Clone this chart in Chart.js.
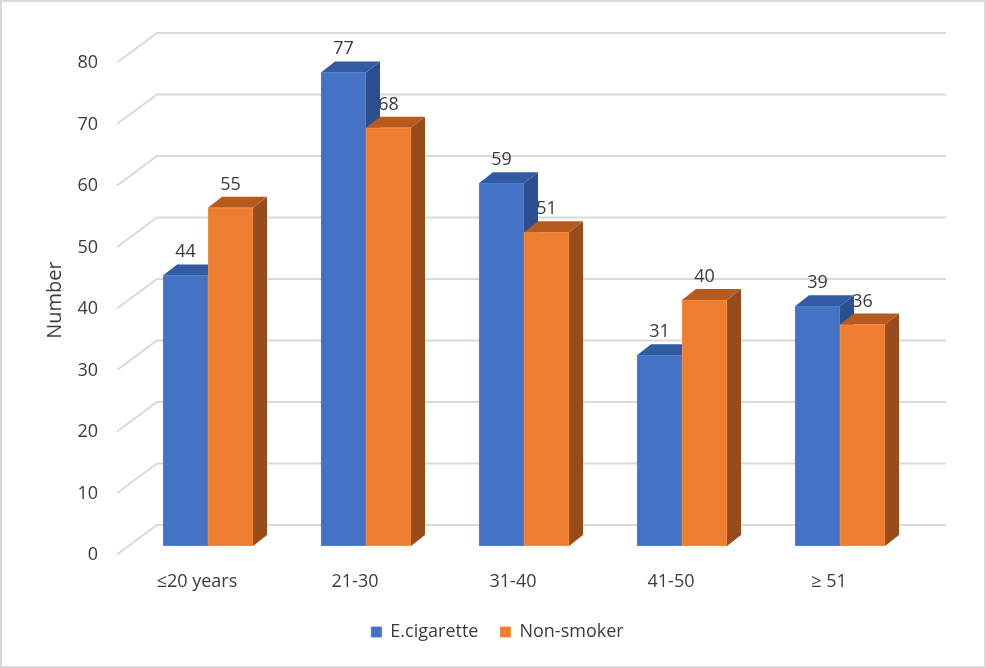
<!DOCTYPE html>
<html>
<head>
<meta charset="utf-8">
<script src="https://cdn.jsdelivr.net/npm/chart.js@4.4.1/dist/chart.umd.min.js"></script>
<style>
    html, body { margin: 0; padding: 0; background: #fff; }
    canvas { display: block; }
</style>
</head>
<body>
<canvas id="ageChart" width="986" height="668"></canvas>
<script>
// --- Data ---
const ageGroups = ['≤20 years', '21-30', '31-40', '41-50', '≥ 51'];
const eCigarette = [44, 77, 59, 31, 39];
const nonSmoker = [55, 68, 51, 40, 36];
const yTicks = [0, 10, 20, 30, 40, 50, 60, 70, 80];

// colours for the three visible faces of each bar
const faces = [
    { front: '#4472c4', top: '#335ba4', side: '#2c4f8f', edge: '#4f7fd4' },
    { front: '#ed7d31', top: '#b65a1e', side: '#984c1b', edge: '#f28b40' }
];

const DEPTH_X = 14;
const DEPTH_Y = -11;
const TEXT = '#3b3b3b';
const FONT = "'Open Sans', sans-serif";

function fillPoly(ctx, pts, color) {
    ctx.beginPath();
    ctx.moveTo(pts[0][0], pts[0][1]);
    for (let i = 1; i < pts.length; i++) ctx.lineTo(pts[i][0], pts[i][1]);
    ctx.closePath();
    ctx.fillStyle = color;
    ctx.fill();
}

// walls + 3D bars, drawn from the bar elements the library lays out
const fake3d = {
    id: 'fake3d',
    beforeDraw(chart) {
        const ctx = chart.ctx;
        ctx.save();
        ctx.strokeStyle = '#d9d9d9';
        ctx.lineWidth = 2;
        ctx.strokeRect(1, 1, chart.width - 2, chart.height - 2);
        ctx.restore();
    },
    beforeDatasetsDraw(chart) {
        const { ctx, chartArea, scales: { y } } = chart;
        ctx.save();
        ctx.strokeStyle = '#d9d9d9';
        ctx.lineWidth = 2;
        yTicks.forEach(v => {
            const py = y.getPixelForValue(v);
            ctx.beginPath();
            ctx.moveTo(chartArea.left - 12, py + 8.5);
            ctx.lineTo(chartArea.left + 28, py - 21);
            ctx.lineTo(chartArea.right + 27, py - 21);
            ctx.stroke();
        });
        ctx.restore();
    },
    afterDatasetsDraw(chart) {
        const ctx = chart.ctx;
        const metas = [chart.getDatasetMeta(0), chart.getDatasetMeta(1)];
        ctx.save();
        for (let i = 0; i < ageGroups.length; i++) {
            metas.forEach((meta, d) => {
                const bar = meta.data[i];
                const left = bar.x - bar.width / 2;
                const right = bar.x + bar.width / 2;
                const top = bar.y;
                const base = bar.base;
                const c = faces[d];
                fillPoly(ctx, [[right, top], [right + DEPTH_X, top + DEPTH_Y], [right + DEPTH_X, base + DEPTH_Y], [right, base]], c.side);
                fillPoly(ctx, [[left, top], [left + DEPTH_X, top + DEPTH_Y], [right + DEPTH_X, top + DEPTH_Y], [right, top]], c.top);
                ctx.fillStyle = c.front;
                ctx.fillRect(left, top, right - left, base - top);
                ctx.strokeStyle = c.edge;
                ctx.lineWidth = 1;
                ctx.strokeRect(left + 0.5, top + 0.5, right - left - 1, base - top - 1);
            });
        }
        // value labels above each bar
        ctx.fillStyle = TEXT;
        ctx.font = "18px " + FONT;
        ctx.textAlign = 'center';
        ctx.textBaseline = 'alphabetic';
        metas.forEach((meta, d) => {
            const values = d === 0 ? eCigarette : nonSmoker;
            meta.data.forEach((bar, i) => {
                ctx.fillText(String(values[i]), bar.x, bar.y - 18);
            });
        });
        ctx.restore();
    }
};

new Chart(document.getElementById('ageChart'), {
    type: 'bar',
    data: {
        labels: ageGroups,
        datasets: [
            {
                label: 'E.cigarette',
                data: eCigarette,
                backgroundColor: faces[0].front,
                borderColor: faces[0].edge,
                borderWidth: 1,
                yAxisID: 'y'
            },
            {
                label: 'Non-smoker',
                data: nonSmoker,
                backgroundColor: faces[1].front,
                borderColor: faces[1].edge,
                borderWidth: 1,
                yAxisID: 'y'
            }
        ]
    },
    options: {
        responsive: false,
        animation: false,
        events: [],
        layout: { padding: { left: 9, right: 0, top: 54, bottom: 17 } },
        datasets: { bar: { barPercentage: 1, categoryPercentage: 0.57 } },
        scales: {
            x: {
                grid: { display: false, drawTicks: false },
                border: { display: false },
                ticks: { color: TEXT, font: { family: FONT, size: 18 }, padding: 25, maxRotation: 0, labelOffset: -11 },
                afterFit(scale) { scale.height = 55; }
            },
            y: {
                min: 0,
                max: 80,
                grid: { display: false, drawTicks: false },
                border: { display: false },
                ticks: { stepSize: 10, color: TEXT, font: { family: FONT, size: 18 }, padding: 31, labelOffset: 9 },
                title: { display: true, text: 'Number', color: TEXT, font: { family: FONT, size: 20 }, padding: { top: 34, bottom: 0 } },
                afterFit(scale) { scale.width = 120; }
            },
            yRight: {
                position: 'right',
                grid: { display: false, drawTicks: false },
                border: { display: false },
                ticks: { display: false },
                afterFit(scale) { scale.width = 67; }
            }
        },
        plugins: {
            legend: {
                position: 'bottom',
                labels: {
                    color: TEXT,
                    font: { family: FONT, size: 18 },
                    boxWidth: 10,
                    boxHeight: 10,
                    padding: 22
                }
            },
            tooltip: { enabled: false }
        }
    },
    plugins: [fake3d]
});
</script>
</body>
</html>
